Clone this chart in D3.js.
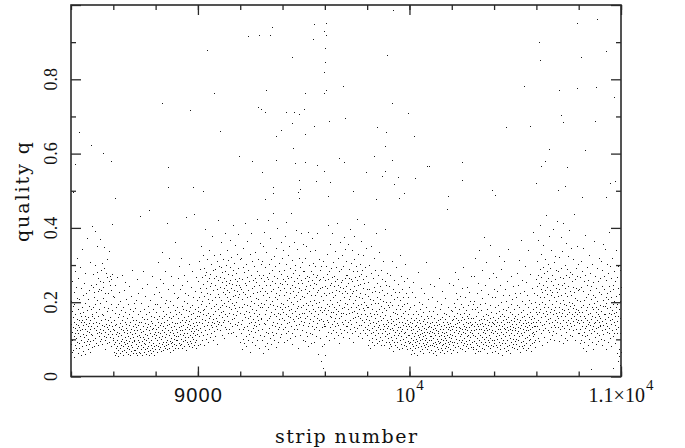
<!DOCTYPE html>
<html><head><meta charset="utf-8">
<script src="https://cdn.jsdelivr.net/npm/d3@7"></script>
<style>html,body{margin:0;padding:0;background:#fff;} svg{display:block;}</style>
</head><body>
<svg id="chart" width="685" height="448"></svg>
<script>
// ---------------- data ----------------
const stripStart = 8400;
const stripEnd = 11000;
// quality q (in thousandths) for consecutive strips, one string per 100 strips
const qBand = [
"142 88 203 121 67 175 256 98 134 189 72 161 228 109 147 53 196 118 284 131 86 167 142 241 103 78 155 212 126 94 318 139 64 183 117 265 152 91 208 133 76 124 171 296 108 58 146 237 162 99 186 127 344 82 153 115 219 69 138 174 105 251 148 92 129 197 61 163 278 113 84 141 225 156 96 372 122 178 73 135 209 101 160 233 87 144 119 190 66 151 307 128 95 182 114 247 137 79 168 406",
"163 112 241 98 187 145 276 131 82 213 227 157 301 104 196 392 126 249 91 174 148 281 118 207 352 137 229 86 264 162 143 108 236 183 121 95 256 371 129 198 153 287 117 232 101 169 139 305 88 241 166 212 124 254 349 110 186 135 291 97 224 156 75 120 279 142 202 105 317 133 176 89 268 151 224 127 185 114 258 338 93 139 160 271 122 247 106 196 147 233 83 262 411 136 179 115 277 128 216 99",
"104 67 152 88 213 126 59 171 93 138 247 76 115 186 62 142 98 267 121 83 159 71 196 109 54 134 228 91 167 117 78 145 63 203 128 96 179 85 112 274 69 153 101 137 58 188 124 81 163 232 94 119 72 148 106 255 87 174 131 65 142 99 209 116 77 157 89 126 61 194 110 83 139 243 96 168 74 121 57 183 103 146 86 218 129 68 161 92 115 286 79 135 107 177 63 152 98 124 71 199",
"96 142 71 118 185 63 134 207 88 152 109 76 263 124 57 167 98 139 81 226 113 67 148 92 175 431 105 62 129 84 198 146 73 119 238 95 58 161 107 136 79 284 122 89 154 66 181 101 143 74 217 115 87 128 61 169 97 248 133 78 112 156 69 191 104 141 83 126 59 173 447 93 137 72 205 118 86 149 64 164 99 271 127 77 145 108 183 68 131 91 222 114 57 159 82 138 103 196 73 121",
"128 86 173 112 241 97 154 67 196 133 82 307 119 148 74 228 105 162 91 138 263 116 79 187 143 101 69 215 125 158 88 334 109 176 94 137 72 252 121 164 83 146 199 107 76 283 131 92 168 115 206 84 151 412 98 139 73 187 124 236 87 159 111 78 142 318 96 174 119 65 203 134 89 157 104 271 126 81 148 93 192 117 246 71 163 102 135 88 224 113 179 77 144 361 99 127 85 168 109 212",
"143 97 186 121 264 109 157 78 214 132 173 91 297 126 148 84 235 115 169 102 318 137 88 191 124 152 76 247 113 181 95 139 203 118 161 83 274 129 146 99 226 107 178 72 153 428 134 92 197 116 258 141 87 164 105 219 127 175 81 149 302 112 186 96 138 241 122 167 89 155 107 283 131 79 192 118 144 213 101 172 86 136 437 123 158 94 229 111 183 76 147 267 128 98 163 114 206 139 85 176",
"186 124 257 148 311 109 213 162 87 238 174 289 131 196 352 119 227 156 268 98 204 143 326 178 112 249 167 293 136 217 84 183 274 152 397 126 239 165 102 281 191 138 226 317 114 258 172 146 209 93 266 157 341 129 198 244 107 277 163 221 139 302 184 118 253 147 206 378 134 286 169 97 232 155 264 122 191 327 144 247 176 108 213 289 158 137 271 196 88 236 149 312 127 259 181 421 142 223 166 298",
"213 147 268 186 329 124 241 173 296 138 207 362 159 254 112 281 193 228 146 317 176 239 103 264 198 152 387 221 168 283 134 246 301 189 127 258 214 341 163 232 118 276 204 149 313 186 251 129 227 172 294 143 368 209 261 116 238 181 322 154 273 197 136 249 218 407 167 286 121 234 192 305 158 263 142 219 354 184 247 109 278 201 165 331 229 139 257 176 292 213 148 384 246 187 266 127 223 315 171 242",
"172 94 236 141 318 117 263 186 73 209 153 294 128 347 102 227 168 89 281 196 134 253 412 159 221 108 302 177 246 81 193 137 269 214 364 126 158 287 99 232 174 115 256 143 329 191 67 218 163 274 122 387 146 204 238 93 183 311 131 259 156 224 106 297 171 139 243 198 86 266 148 336 119 211 179 254 137 423 162 228 97 284 193 152 317 124 208 246 167 78 273 141 359 186 231 113 264 157 302 199",
"154 238 97 312 186 127 273 64 219 351 143 256 108 196 388 167 231 82 294 142 247 119 334 178 206 91 268 153 226 421 116 187 263 74 302 158 214 131 279 196 103 246 373 162 229 88 317 174 139 258 204 121 286 441 148 193 236 112 271 167 324 98 215 182 253 136 297 79 224 163 347 118 189 264 145 208 401 127 241 172 94 283 156 219 133 306 186 251 107 232 168 362 141 277 199 114 248 157 319 183",
"196 263 128 341 174 237 92 286 153 219 378 134 256 187 116 304 228 169 417 143 271 206 98 248 163 327 189 122 264 211 146 352 178 237 104 292 159 226 183 439 137 268 201 117 313 246 172 88 279 154 231 196 363 128 257 213 149 301 176 241 109 287 162 394 219 138 266 184 127 342 203 253 157 76 228 191 318 142 274 167 239 113 296 208 161 387 233 149 261 186 124 309 217 171 252 98 283 192 356 139",
"214 147 283 172 96 236 319 158 264 121 197 352 183 243 108 271 164 226 389 137 258 192 83 301 176 229 143 267 117 338 204 156 247 91 284 171 219 136 372 193 261 114 238 182 306 149 276 207 128 253 164 93 297 219 176 341 132 248 197 109 268 158 227 386 143 274 186 61 233 167 316 124 259 201 152 287 179 238 104 263 41 216 154 297 186 82 241 173 132 268 24 205 149 311 87 137 226 178 142 259",
"58 184 243 136 297 168 219 109 276 152 331 194 237 121 263 178 408 146 226 189 98 284 163 247 132 356 207 174 252 117 293 161 228 142 387 196 268 126 214 173 309 149 243 188 104 271 157 339 219 136 258 182 121 296 167 233 144 412 201 263 113 247 176 318 139 229 192 91 284 158 241 127 363 206 172 254 118 289 163 226 147 327 184 259 107 238 171 298 142 213 376 188 124 266 153 231 197 343 136 274",
"243 168 312 137 274 196 226 121 358 183 251 146 289 209 103 264 172 397 218 153 236 127 306 188 262 141 224 173 341 116 257 197 283 158 229 94 316 176 243 134 378 207 161 268 122 233 186 297 148 216 423 172 259 131 284 193 109 247 164 331 214 139 271 182 226 117 302 157 249 196 364 138 277 169 212 103 288 151 239 184 327 126 263 201 146 252 178 411 134 296 167 221 118 271 193 347 154 236 187 129",
"163 112 217 86 254 139 188 97 301 152 124 236 171 78 209 143 279 118 194 162 352 104 227 131 183 92 264 147 206 121 318 169 84 241 136 197 113 286 158 229 102 176 143 387 124 213 89 252 167 134 198 116 274 149 227 96 181 138 336 107 243 162 129 209 84 287 153 191 118 234 174 99 263 141 202 127 312 158 86 219 137 184 109 257 166 123 398 142 201 93 246 178 115 226 151 131 279 104 193 147",
"137 94 186 118 243 76 162 129 201 88 274 143 107 219 156 82 192 131 312 99 174 124 236 68 149 113 208 92 261 138 171 84 227 119 154 296 103 183 141 79 214 126 167 94 249 133 112 193 157 73 228 118 146 327 97 181 134 206 87 162 123 271 109 189 148 78 236 127 172 101 213 139 86 257 158 116 194 92 144 302 121 176 83 224 135 107 198 151 74 264 128 169 96 215 142 113 183 89 241 136",
"112 78 146 93 187 124 61 158 104 132 227 87 143 116 72 169 98 254 127 83 151 109 64 193 136 92 118 214 76 157 101 139 84 176 122 57 148 96 281 113 167 79 134 106 201 89 153 127 68 182 114 97 143 238 81 126 162 102 74 137 118 196 91 149 63 173 109 131 86 224 121 154 97 79 141 113 186 88 128 307 104 163 75 119 147 92 209 133 82 158 116 67 137 99 176 123 84 248 108 144",
"97 134 72 163 108 86 147 119 213 91 128 64 176 103 139 82 157 117 243 94 131 69 186 112 147 87 124 58 168 101 138 79 202 123 96 151 74 117 264 89 142 108 181 66 127 154 93 113 78 196 135 102 161 84 119 229 71 146 97 128 87 172 109 63 139 118 154 91 211 104 76 132 167 98 121 83 148 452 113 69 187 127 94 141 79 163 106 132 88 251 115 143 74 124 96 178 103 137 62 153",
"128 93 176 112 247 86 154 137 71 198 119 163 94 281 142 108 187 79 133 224 101 158 126 67 172 143 89 209 117 151 83 263 134 97 181 122 146 76 218 108 167 131 92 194 153 115 74 238 127 161 98 141 186 84 119 296 137 103 172 91 154 128 69 213 116 147 96 178 132 82 241 109 163 124 87 192 145 113 76 157 134 227 98 169 121 88 148 204 106 139 79 271 126 158 94 183 117 142 73 196",
"113 158 79 204 137 96 271 124 62 181 147 108 318 91 163 129 74 226 142 103 187 84 136 253 117 69 174 152 98 341 127 83 196 141 113 68 232 154 94 179 128 286 107 143 77 211 119 164 88 137 376 102 154 126 73 198 141 93 247 116 169 84 131 308 107 152 63 183 124 97 221 138 81 166 113 264 92 147 129 76 192 157 104 353 119 86 173 136 67 214 148 99 124 278 82 161 117 143 91 236",
"142 97 186 123 68 214 153 109 267 84 137 172 116 79 231 148 101 193 127 64 158 324 94 176 138 112 247 86 163 129 73 201 147 104 289 121 167 89 136 58 219 152 114 183 97 131 312 76 164 142 108 236 127 91 178 154 69 203 119 146 83 258 133 98 187 124 71 161 343 112 147 86 219 137 103 174 128 62 196 153 94 271 117 141 79 208 126 168 101 134 87 243 149 113 182 76 157 131 96 226",
"126 164 87 213 141 102 278 118 73 192 156 134 98 247 123 169 81 314 146 109 187 131 67 226 152 94 173 117 368 138 83 204 159 112 261 127 76 178 143 96 231 164 119 86 298 137 153 104 196 72 143 126 254 91 168 133 107 219 147 78 186 124 341 97 161 138 112 207 84 173 129 276 101 154 143 69 198 117 237 132 89 164 146 108 389 121 183 94 137 226 114 158 79 201 136 97 263 148 123 174",
"187 243 136 312 168 219 104 274 153 367 196 128 251 174 96 289 213 147 408 183 236 117 268 159 331 201 139 227 86 296 172 246 124 353 188 213 142 279 107 234 163 317 196 131 258 177 436 149 221 93 283 168 241 126 302 187 154 264 119 379 206 143 232 174 101 291 158 219 341 134 256 183 112 273 196 148 228 167 397 123 247 178 139 308 214 97 262 153 186 324 132 239 171 118 286 204 146 419 163 227",
"216 157 284 132 248 187 96 321 173 236 128 267 198 143 376 164 219 112 293 181 246 137 338 172 207 89 264 153 412 196 131 253 178 226 104 301 163 238 146 359 192 121 274 168 217 138 289 97 243 183 324 152 201 127 268 174 394 143 231 189 113 282 157 219 346 136 258 167 198 108 276 184 241 149 317 126 227 163 437 192 138 262 174 212 98 293 156 238 183 127 351 206 147 271 169 233 118 304 178 152",
"174 118 236 143 89 267 162 204 127 312 98 186 153 241 112 284 137 173 76 229 148 347 193 121 258 164 94 206 131 273 157 108 381 179 214 136 69 247 152 188 113 296 141 223 167 84 261 126 194 147 327 102 233 171 138 279 117 19 208 156 243 128 186 93 302 164 137 219 181 74 254 143 198 122 366 159 213 106 271 146 187 131 239 88 174 152 291 117 203 168 134 258 96 182 147 227 113 318 163 139",
"193 137 264 158 102 311 176 223 124 287 149 86 243 191 138 357 114 206 168 271 97 236 154 189 128 342 167 214 73 261 143 198 119 303 184 137 226 92 278 159 208 131 389 172 244 116 186 153 297 104 231 168 142 264 81 213 179 126 318 154 247 109 194 23 236 148 172 283 117 203 164 91 256 138 187 127 341 173 218 62 149 267 196 118 238 42 164 297 132 183 74 221 56 157 286 31 203 118 241 67"
];
const qHigh = [
[9924,0.987],[9350,0.94],[9238,0.917],[9290,0.92],[9342,0.92],[9550,0.949],[9607,0.952],[9597,0.93],[9605,0.92],[9545,0.908],
[9602,0.884],[9444,0.86],[9894,0.865],[9603,0.847],[9598,0.82],[9321,0.771],[9507,0.764],[9597,0.763],[9606,0.771],[9687,0.782],
[9918,0.736],[9993,0.71],[9282,0.726],[9299,0.721],[9315,0.711],[9416,0.713],[9452,0.712],[9476,0.707],[9503,0.719],[9444,0.683],
[9619,0.689],[9693,0.697],[9550,0.674],[9392,0.664],[9368,0.647],[9506,0.654],[9847,0.671],[9891,0.659],[10020,0.648],[9449,0.616],
[9883,0.62],[9192,0.594],[9255,0.58],[9367,0.584],[9458,0.576],[9507,0.578],[9563,0.569],[9668,0.589],[9689,0.577],[9834,0.594],
[9918,0.583],[10083,0.567],[10094,0.567],[9305,0.55],[9594,0.554],[9794,0.55],[9884,0.554],[9870,0.54],[9946,0.537],[10028,0.534],
[9477,0.529],[9556,0.527],[9626,0.524],[9354,0.511],[9357,0.495],[9484,0.505],[9471,0.497],[9731,0.498],[9927,0.518],[9973,0.495],
[9316,0.479],[9478,0.48],[9614,0.487],[9840,0.479],[9949,0.48],[10184,0.486],
[9042,0.879],[9077,0.764],[8831,0.735],[8963,0.717],[9105,0.662],[8439,0.657],[8495,0.623],[8550,0.601],[8420,0.572],[8588,0.58],
[8860,0.565],[8858,0.511],[8976,0.511],[9026,0.5],[8411,0.497],[8608,0.481],
[10885,0.962],[10790,0.952],[10612,0.901],[10929,0.877],[10809,0.859],[10619,0.851],[10542,0.782],[10709,0.772],[10791,0.777],[10881,0.78],
[10968,0.752],[10717,0.704],[10728,0.685],[10878,0.689],[10454,0.672],[10568,0.673],[10661,0.613],[10828,0.609],[10250,0.578],[10621,0.567],
[10642,0.58],[10747,0.563],[10249,0.528],[10597,0.522],[10733,0.513],[10701,0.501],[10948,0.52],[10970,0.526],[10391,0.501],[10403,0.488],
[10817,0.483],[10929,0.483]
];
const xMajorTicks = [9000, 10000, 11000];
const xMinorTicks = [8400, 8600, 8800, 9000, 9200, 9400, 9600, 9800, 10000, 10200, 10400, 10600, 10800, 11000];
const xTickBase = ["9000", "10", "1.1\u00d710"];
const xTickExp = ["", "4", "4"];
const yMajorTicks = [0, 0.2, 0.4, 0.6, 0.8, 1.0];
const yMinorTicks = [0.1, 0.3, 0.5, 0.7, 0.9];
const yTickLabels = ["0", "0.2", "0.4", "0.6", "0.8"];
const xTitle = "strip number";
const yTitle = "quality q";

// ---------------- build ----------------
const points = [];
qBand.forEach((s, k) => {
  s.trim().split(/\s+/).forEach((v, i) => points.push({ strip: stripStart + k * 100 + i, q: +v / 1000 }));
});
qHigh.forEach(([s, q]) => points.push({ strip: s, q: q }));

const svg = d3.select("#chart");
const L = 71, R = 621, T = 5, B = 376.5;
const x = d3.scaleLinear().domain([stripStart, stripEnd]).range([L, R]);
const y = d3.scaleLinear().domain([0, 1]).range([B, T]);

// points
svg.append("g").attr("shape-rendering", "crispEdges").selectAll("rect").data(points).join("rect")
  .attr("x", d => Math.round(x(d.strip)))
  .attr("y", d => Math.round(y(d.q)))
  .attr("width", 1).attr("height", 1)
  .attr("fill", "#1a1a1a");

const axisColor = "#2a2a2a";
function styleAxis(g) {
  g.select(".domain").remove();
  g.selectAll(".tick line").attr("stroke", axisColor).attr("stroke-width", 1.3);
  g.selectAll(".tick text").remove();
}
// bottom
svg.append("g").attr("transform", `translate(0,${B})`)
  .call(d3.axisBottom(x).tickValues(xMinorTicks).tickSize(-5).tickSizeOuter(0)).call(styleAxis);
svg.append("g").attr("transform", `translate(0,${B})`)
  .call(d3.axisBottom(x).tickValues(xMajorTicks).tickSize(-10).tickSizeOuter(0)).call(styleAxis);
// top
svg.append("g").attr("transform", `translate(0,${T})`)
  .call(d3.axisTop(x).tickValues(xMinorTicks).tickSize(-5).tickSizeOuter(0)).call(styleAxis);
svg.append("g").attr("transform", `translate(0,${T})`)
  .call(d3.axisTop(x).tickValues(xMajorTicks).tickSize(-10).tickSizeOuter(0)).call(styleAxis);
// left
svg.append("g").attr("transform", `translate(${L},0)`)
  .call(d3.axisLeft(y).tickValues(yMinorTicks).tickSize(-5).tickSizeOuter(0)).call(styleAxis);
svg.append("g").attr("transform", `translate(${L},0)`)
  .call(d3.axisLeft(y).tickValues(yMajorTicks).tickSize(-10).tickSizeOuter(0)).call(styleAxis);
// right
svg.append("g").attr("transform", `translate(${R},0)`)
  .call(d3.axisRight(y).tickValues(yMinorTicks).tickSize(-5).tickSizeOuter(0)).call(styleAxis);
svg.append("g").attr("transform", `translate(${R},0)`)
  .call(d3.axisRight(y).tickValues(yMajorTicks).tickSize(-10).tickSizeOuter(0)).call(styleAxis);

// frame
svg.append("rect").attr("x", L).attr("y", T).attr("width", R - L).attr("height", B - T)
  .attr("fill", "none").attr("stroke", axisColor).attr("stroke-width", 1.6);

// x tick labels
const xl = svg.append("g").attr("font-family", "'Liberation Serif', serif").attr("fill", "#111");
xMajorTicks.forEach((v, i) => {
  const t = xl.append("text").attr("x", x(v)).attr("y", 401.5).attr("text-anchor", "middle")
    .attr("font-size", 20);
  if (i === 0) t.attr("font-family", "'Liberation Sans', sans-serif").attr("font-size", 20)
    .attr("textLength", 48).attr("lengthAdjust", "spacing");
  t.append("tspan").text(xTickBase[i]);
  if (xTickExp[i]) t.append("tspan").attr("dy", -12).attr("dx", 1).attr("font-size", 15).text(xTickExp[i]);
});

// y tick labels (rotated)
const yl = svg.append("g").attr("font-family", "'Liberation Serif', serif").attr("fill", "#111");
yTickLabels.forEach((lab, i) => {
  const yy = y(yMajorTicks[i]);
  yl.append("text").attr("transform", `translate(57,${yy}) rotate(-90)`)
    .attr("text-anchor", "middle").attr("font-size", 18).text(lab);
});

// titles
svg.append("text").attr("x", 346).attr("y", 443).attr("text-anchor", "middle")
  .attr("font-family", "'DejaVu Serif', serif").attr("font-size", 19).attr("fill", "#111")
  .attr("textLength", 142).attr("lengthAdjust", "spacing").text(xTitle);
svg.append("text").attr("transform", `translate(29,192) rotate(-90)`).attr("text-anchor", "middle")
  .attr("font-family", "'DejaVu Serif', serif").attr("font-size", 19).attr("fill", "#111")
  .attr("textLength", 100).attr("lengthAdjust", "spacing").text(yTitle);
</script>
</body></html>
